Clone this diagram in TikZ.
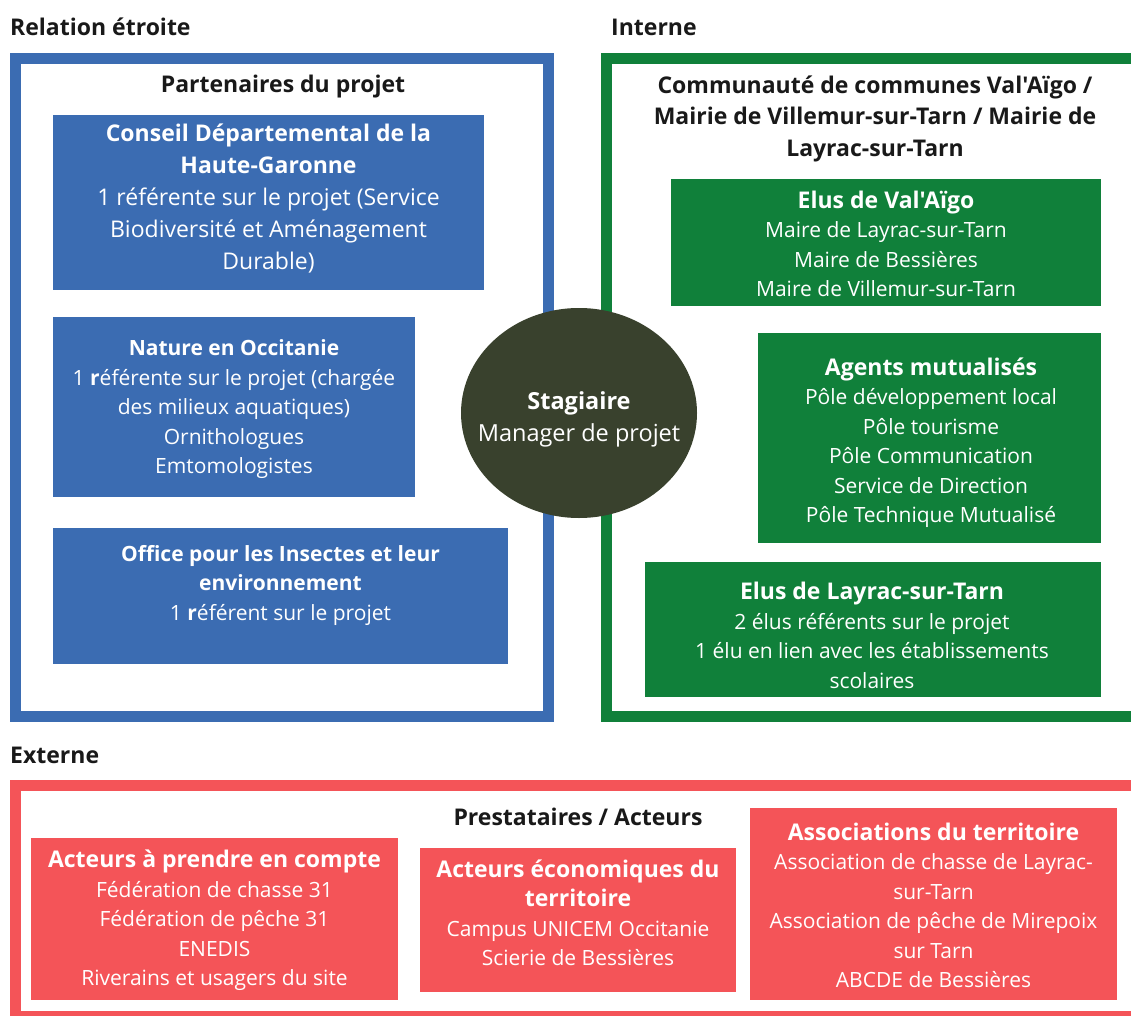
\documentclass[tikz,border=0pt]{standalone}
\usepackage{fontspec}
\usetikzlibrary{shapes.geometric}
\setmainfont{Open Sans}[Ligatures=TeXOff]
\definecolor{blueC}{RGB}{59,108,178}
\definecolor{greenC}{RGB}{16,128,58}
\definecolor{redC}{RGB}{244,84,88}
\definecolor{circC}{RGB}{57,65,45}
\definecolor{headC}{RGB}{25,25,25}
\newcommand{\ttl}[1]{{\fontsize{23}{29.5}\selectfont\bfseries #1}}
\begin{document}
\begin{tikzpicture}[x=1pt,y=-1pt,
  frame/.style={line width=11pt},
  boxnode/.style={inner sep=0pt, outer sep=0pt, draw=none},
  txt/.style={align=center, text=white, inner sep=0pt, font=\fontsize{21}{29.5}\selectfont},
  bigtxt/.style={align=center, text=white, inner sep=0pt, font=\fontsize{23}{32}\selectfont},
  head/.style={inner sep=0pt, text=headC, font=\bfseries\fontsize{23}{31.5}\selectfont, align=center}]
\useasboundingbox (0,0) rectangle (1131,1016);
\fill[white] (0,0) rectangle (1131,1016);
\begin{scope}
\clip (0,0) rectangle (1131,1016);
\draw[blueC, frame] (15.5,58.5) rectangle (548.5,716.5);
\draw[greenC, frame] (606.5,58.5) rectangle (1160,716.5);
\draw[redC, frame] (15.5,785.5) rectangle (1160,1016.5);
\end{scope}
% section titles
\node[head, anchor=west] (hrel) at (10,27) {Relation étroite};
\node[head, anchor=west] (hint) at (611,27) {Interne};
\node[head, anchor=west] (hext) at (10,755) {Externe};
\node[head] (hpart) at (283,87) {Partenaires du projet};
\node[head] (hcom) at (875,118.5) {Communauté de communes Val'Aïgo /\\Mairie de Villemur-sur-Tarn / Mairie de\\Layrac-sur-Tarn};
\node[head] (hpres) at (578,817) {Prestataires / Acteurs};
% blue boxes
\node[boxnode, fill=blueC, minimum width=431pt, minimum height=175pt] (cd) at (268.5,202.5) {};
\node[bigtxt] (cdt) at (268.5,199) {\textbf{Conseil Départemental de la}\\\textbf{Haute-Garonne}\\1 référente sur le projet (Service\\Biodiversité et Aménagement\\Durable)};
\node[boxnode, fill=blueC, minimum width=362pt, minimum height=180pt] (ne) at (234,407) {};
\node[txt] (net) at (234,409.5) {\textbf{Nature en Occitanie}\\1 \textbf{r}éférente sur le projet (chargée\\des milieux aquatiques)\\Ornithologues\\Emtomologistes};
\node[boxnode, fill=blueC, minimum width=455pt, minimum height=136pt] (oi) at (280.5,596) {};
\node[txt] (oit) at (280.5,585) {\textbf{Office pour les Insectes et leur}\\\textbf{environnement}\\1 \textbf{r}éférent sur le projet};
% green boxes
\node[boxnode, fill=greenC, minimum width=430pt, minimum height=127pt] (ev) at (886,242.5) {};
\node[txt] (evt) at (886,244) {\ttl{Elus de Val'Aïgo}\\Maire de Layrac-sur-Tarn\\Maire de Bessières\\Maire de Villemur-sur-Tarn};
\node[boxnode, fill=greenC, minimum width=343pt, minimum height=210pt] (am) at (929.5,438) {};
\node[txt] (amt) at (931,442.5) {\ttl{Agents mutualisés}\\Pôle développement local\\Pôle tourisme\\Pôle Communication\\Service de Direction\\Pôle Technique Mutualisé};
\node[boxnode, fill=greenC, minimum width=456pt, minimum height=135pt] (el) at (873,629.5) {};
\node[txt] (elt) at (872,635.5) {\ttl{Elus de Layrac-sur-Tarn}\\2 élus référents sur le projet\\1 élu en lien avec les établissements\\scolaires};
% red boxes
\node[boxnode, fill=redC, minimum width=367pt, minimum height=162pt] (ra) at (214.5,919) {};
\node[txt] (rat) at (214.5,920.5) {\ttl{Acteurs à prendre en compte}\\Fédération de chasse 31\\Fédération de pêche 31\\ENEDIS\\Riverains et usagers du site};
\node[boxnode, fill=redC, minimum width=316pt, minimum height=144pt] (re) at (578,920) {};
\node[txt] (ret) at (578,913) {\ttl{Acteurs économiques du}\\\ttl{territoire}\\Campus UNICEM Occitanie\\Scierie de Bessières};
\node[boxnode, fill=redC, minimum width=367pt, minimum height=192pt] (rt) at (933.5,904) {};
\node[txt] (rtt) at (933.5,905.5) {\ttl{Associations du territoire}\\Association de chasse de Layrac-\\sur-Tarn\\Association de pêche de Mirepoix\\sur Tarn\\ABCDE de Bessières};
% central ellipse
\node[ellipse, fill=circC, minimum width=236pt, minimum height=210pt, inner sep=0pt] (st) at (579,413) {};
\node[align=center, text=white, inner sep=0pt, font=\fontsize{23.5}{32}\selectfont] (stt) at (579,419) {\textbf{Stagiaire}\\Manager de projet};
\end{tikzpicture}
\end{document}
